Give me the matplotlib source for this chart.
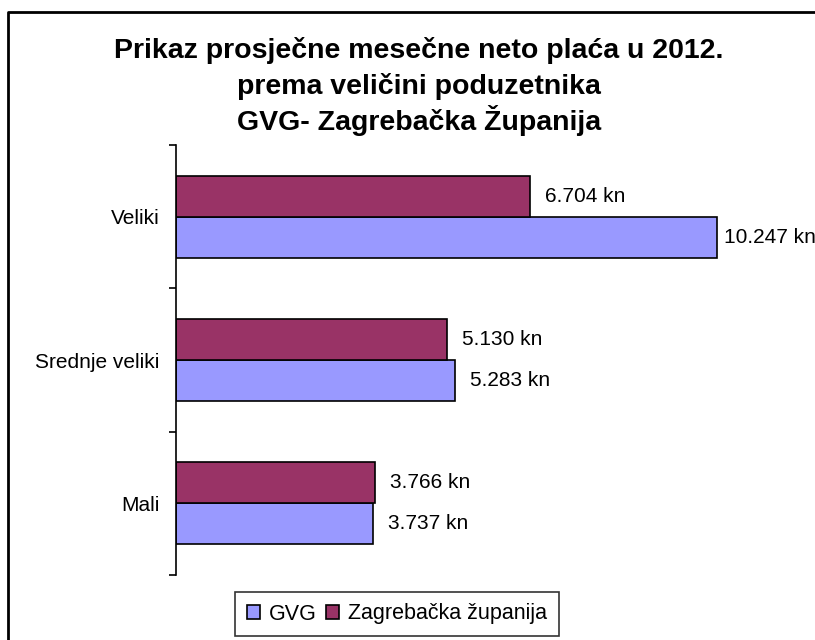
import matplotlib
matplotlib.use("Agg")
import matplotlib.pyplot as plt
from matplotlib.lines import Line2D
import numpy as np

plt.rcParams['font.family'] = ['Liberation Sans', 'DejaVu Sans']

categories = ["Mali", "Srednje veliki", "Veliki"]
gvg = [3737, 5283, 10247]
zagreb = [3766, 5130, 6704]
series_names = ["GVG", "Zagrebačka županija"]
value_labels_gvg = ["3.737 kn", "5.283 kn", "10.247 kn"]
value_labels_zg = ["3.766 kn", "5.130 kn", "6.704 kn"]
title_lines = ["Prikaz prosječne mesečne neto plaća u 2012.",
               "prema veličini poduzetnika",
               "GVG- Zagrebačka Županija"]

W, H = 815, 640
fig = plt.figure(figsize=(W / 100, H / 100), dpi=100)

# outer chart border (cut at right and bottom)
fig.add_artist(Line2D([8 / W, 8 / W, 1.0], [0.0, 1 - 12 / H, 1 - 12 / H],
                      transform=fig.transFigure, color="black", lw=2))

ax_left, ax_right = 176, 810
ax_top, ax_bot = 145, 575
ax = fig.add_axes([ax_left / W, 1 - ax_bot / H, (ax_right - ax_left) / W, (ax_bot - ax_top) / H])

y = np.arange(len(categories))
h = 0.286
blue = "#9999FF"
maroon = "#993366"
b1 = ax.barh(y - h / 2, gvg, height=h, color=blue, edgecolor="black", lw=1.2, label=series_names[0])
b2 = ax.barh(y + h / 2, zagreb, height=h, color=maroon, edgecolor="black", lw=1.2, label=series_names[1])


def off(v):
    return 280 if v < 9000 else 130


for i in range(len(categories)):
    ax.text(gvg[i] + off(gvg[i]), y[i] - h / 2, value_labels_gvg[i], va="center", ha="left",
            fontsize=15, clip_on=False)
    ax.text(zagreb[i] + off(zagreb[i]), y[i] + h / 2, value_labels_zg[i], va="center", ha="left",
            fontsize=15, clip_on=False)

ax.set_xlim(0, 12000)
ax.set_ylim(-0.5, 2.5)
ax.set_yticks(y)
ax.set_yticklabels(categories, fontsize=15)
ax.tick_params(axis="y", which="major", length=0, pad=12)
ax.set_yticks([-0.5, 0.5, 1.5, 2.5], minor=True)
ax.tick_params(axis="y", which="minor", length=5, width=1.2, direction="out")
ax.set_xticks([])
for s in ["top", "right", "bottom"]:
    ax.spines[s].set_visible(False)
ax.spines["left"].set_linewidth(1.2)

for k, line in enumerate(title_lines):
    fig.text(419 / W, 1 - (58 + 36 * k) / H, line, ha="center", va="baseline", fontsize=20.5,
             fontweight="bold")

leg = fig.legend(handles=[b1, b2], labels=series_names, loc="center",
                 bbox_to_anchor=(397 / W, 1 - 614 / H), ncol=2, fontsize=15.5,
                 frameon=True, fancybox=False, edgecolor="black", handlelength=0.6,
                 handleheight=0.6, handletextpad=0.4, columnspacing=0.45,
                 borderpad=0.55, borderaxespad=0)
leg.get_frame().set_linewidth(1.2)

fig.savefig("out.png", dpi=100, facecolor="white")
